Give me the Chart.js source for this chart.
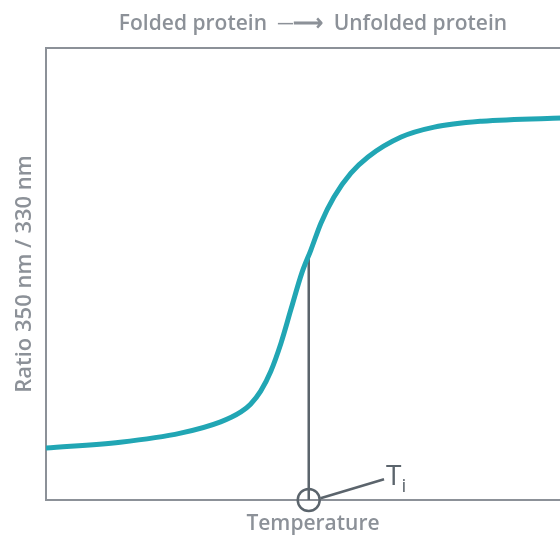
<!DOCTYPE html>
<html>
<head>
<meta charset="utf-8">
<script src="https://cdn.jsdelivr.net/npm/chart.js@4"></script>
<style>
  html, body { margin: 0; padding: 0; background: #fff; overflow: hidden; }
</style>
</head>
<body>
<canvas id="chart" width="580" height="536"></canvas>
<script>
// curve, arbitrary units (0-100 on both axes)
const temperature = [0, 13.9, 25.2, 32.7, 36.5, 38.3, 40.2, 42.1, 44.0, 45.9, 47.9, 49.6, 51.5, 53.9, 57.1, 60.3, 66.5, 72.7, 81.6, 96.6, 100];
const ratio = [11.5, 12.8, 14.8, 17.3, 19.5, 21.2, 24.1, 28.5, 34.7, 42.3, 50.2, 55.3, 61.3, 67.0, 72.3, 75.9, 80.3, 82.5, 83.8, 84.5, 84.6];

const tiX = 49.2;       // inflection temperature
const tiY = 54.1;       // ratio at Ti
const tiLabelX = 63.3;  // where the leader line ends
const tiLabelY = 4.6;

const grey = '#8c9198';
const dark = '#5b646c';
const teal = '#21a6b4';
const fontFamily = '"Open Sans", "Noto Sans", sans-serif';

const pts = temperature.map((t, i) => ({ x: t, y: ratio[i] }));

const frameTop = {
    id: 'frameTop',
    beforeDatasetsDraw(chart) {
        const { ctx, chartArea } = chart;
        ctx.save();
        ctx.strokeStyle = grey;
        ctx.lineWidth = 2;
        ctx.beginPath();
        ctx.moveTo(chartArea.left - 1, chartArea.top);
        ctx.lineTo(chartArea.right, chartArea.top);
        ctx.stroke();
        ctx.restore();
    },
    afterDatasetsDraw(chart) {
        // T with subscript i at the end of the leader line
        const { ctx, scales } = chart;
        const px = scales.x.getPixelForValue(tiLabelX);
        const py = scales.y.getPixelForValue(tiLabelY);
        ctx.save();
        ctx.fillStyle = dark;
        ctx.textBaseline = 'alphabetic';
        ctx.font = '400 28px ' + fontFamily;
        ctx.fillText('T', px + 2, py + 6);
        const w = ctx.measureText('T').width;
        ctx.font = '400 19px ' + fontFamily;
        ctx.fillText('i', px + 2 + w, py + 13);
        ctx.restore();
    }
};

const titleFont = { family: fontFamily, size: 21, weight: '600', lineHeight: 1.2 };

new Chart(document.getElementById('chart'), {
    type: 'line',
    data: {
        datasets: [
            {
                data: pts,
                borderColor: teal,
                borderWidth: 5,
                pointRadius: 0,
                cubicInterpolationMode: 'monotone',
                order: 1
            },
            {
                data: [{ x: tiX, y: 0 }, { x: tiX, y: tiY }],
                borderColor: dark,
                borderWidth: 2.5,
                pointRadius: 0,
                order: 2
            },
            {
                data: [{ x: tiX + 2.2, y: 0.4 }, { x: tiLabelX, y: tiLabelY }],
                borderColor: dark,
                borderWidth: 2.5,
                pointRadius: 0,
                clip: false,
                order: 2
            },
            {
                type: 'scatter',
                data: [{ x: tiX, y: 0 }],
                pointRadius: 11,
                pointBorderWidth: 2.5,
                pointBorderColor: dark,
                pointBackgroundColor: 'rgba(0,0,0,0)',
                clip: false,
                order: 0
            }
        ]
    },
    options: {
        responsive: false,
        animation: false,
        layout: { padding: 0, autoPadding: false },
        plugins: {
            legend: { display: false },
            tooltip: { enabled: false },
            title: {
                display: true,
                fullSize: false,
                text: 'Folded protein  \u2500\u27F6  Unfolded protein',
                color: grey,
                font: titleFont,
                padding: { top: 11, bottom: 11.8 }
            }
        },
        scales: {
            x: {
                type: 'linear',
                min: 0,
                max: 100,
                ticks: { display: false },
                grid: { display: false, drawTicks: false },
                border: { display: true, color: grey, width: 2 },
                title: {
                    display: true,
                    text: 'Temperature',
                    color: grey,
                    font: { ...titleFont, lineHeight: 1.1 },
                    padding: { top: 0, bottom: 0 }
                },
                afterFit(scale) { scale.height = 36; }
            },
            y: {
                min: 0,
                max: 100,
                ticks: { display: false },
                grid: { display: false, drawTicks: false },
                border: { display: true, color: grey, width: 2 },
                title: {
                    display: true,
                    text: 'Ratio 350 nm / 330 nm',
                    color: grey,
                    font: { ...titleFont, size: 22 },
                    padding: { top: 11.5, bottom: 0 }
                },
                afterFit(scale) { scale.width = 46; }
            }
        }
    },
    plugins: [frameTop]
});
</script>
</body>
</html>
